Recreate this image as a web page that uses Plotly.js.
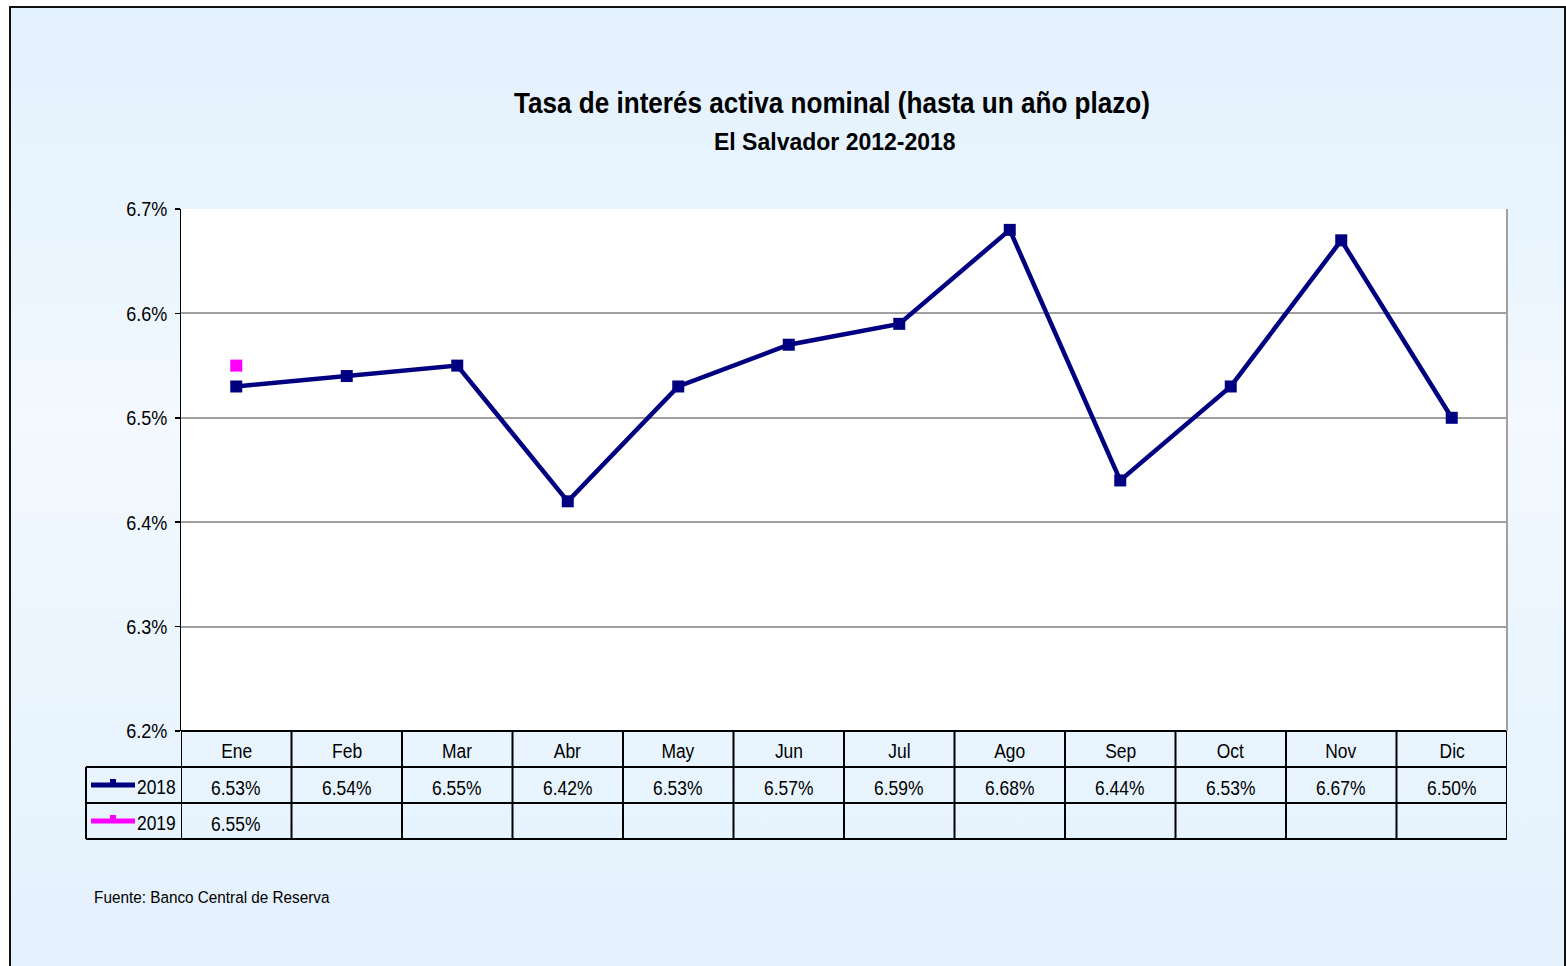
<!DOCTYPE html>
<html>
<head>
<meta charset="utf-8">
<script src="https://cdn.plot.ly/plotly-3.0.1.min.js"></script>
<style>
  html, body { margin:0; padding:0; background:#ffffff; width:1566px; height:966px; overflow:hidden; }
  #frame { position:absolute; left:9px; top:6px; width:1557px; height:980px; border:2px solid #111; box-sizing:border-box;
           background: linear-gradient(to bottom, #e3f1fd 0%, #eaf5fe 25%, #f3f9fe 42%, #eaf5fe 70%, #e3f1fd 100%); }
  #chart { position:absolute; left:0; top:0; width:1566px; height:966px; }
</style>
</head>
<body>
<div id="frame"></div>
<div id="chart"></div>
<script>
// ---- data ----
const months = ["Ene","Feb","Mar","Abr","May","Jun","Jul","Ago","Sep","Oct","Nov","Dic"];
const series2018 = [6.53, 6.54, 6.55, 6.42, 6.53, 6.57, 6.59, 6.68, 6.44, 6.53, 6.67, 6.50];
const series2019 = [6.55];
const seriesNames = ["2018", "2019"];
const yTicks = [6.2, 6.3, 6.4, 6.5, 6.6, 6.7];

// ---- layout helpers (pixel -> paper) ----
const W = 1566, H = 966, L = 181, R = 1507, T = 209, B = 731;
const px = p => (p - L) / (R - L);
const py = p => (B - p) / (B - T);
const FONT = "'Liberation Sans Narrow', 'Arial Narrow', 'Liberation Sans', Arial, sans-serif";
const NAVY = "#000080", MAG = "#ff00ff";

const idx = months.map((m, i) => i);

const traces = [
  { x: idx, y: series2018, type: "scatter", mode: "lines+markers", name: seriesNames[0],
    line: { color: NAVY, width: 4.5 }, marker: { symbol: "square", size: 12, color: NAVY }, cliponaxis: false },
  { x: idx.slice(0, series2019.length), y: series2019, type: "scatter", mode: "lines+markers", name: seriesNames[1],
    line: { color: MAG, width: 4.5 }, marker: { symbol: "square", size: 12, color: MAG }, cliponaxis: false }
];

const shapes = [];
const annotations = [];
const BLK = { color: "#000", width: 2 };
// horizontal table lines
shapes.push({ type: "line", xref: "paper", yref: "paper", x0: px(181), x1: px(1507), y0: py(731), y1: py(731), line: BLK });
[767, 803, 839].forEach(yy => shapes.push({ type: "line", xref: "paper", yref: "paper", x0: px(86), x1: px(1507), y0: py(yy), y1: py(yy), line: BLK }));
// vertical table lines
shapes.push({ type: "line", xref: "paper", yref: "paper", x0: px(86), x1: px(86), y0: py(767), y1: py(839), line: BLK });
for (let i = 0; i <= months.length; i++) {
  shapes.push({ type: "line", xref: "x", yref: "paper", x0: i - 0.5, x1: i - 0.5, y0: py(731), y1: py(839), line: BLK });
}
// legend keys
[[NAVY, 785], [MAG, 821]].forEach(([c, yy]) => {
  shapes.push({ type: "line", xref: "paper", yref: "paper", x0: px(91), x1: px(135), y0: py(yy), y1: py(yy), line: { color: c, width: 5 } });
  shapes.push({ type: "rect", xref: "paper", yref: "paper", x0: px(110), x1: px(116), y0: py(yy - 6), y1: py(yy), line: { width: 0 }, fillcolor: c });
});

const cellFont = { family: FONT, size: 21, color: "#000" };
months.forEach((m, i) => {
  annotations.push({ x: i, xref: "x", y: py(750), yref: "paper", yanchor: "middle", xanchor: "center", text: m, showarrow: false, font: cellFont });
  annotations.push({ x: i, xref: "x", y: py(787), yref: "paper", yanchor: "middle", xanchor: "center", text: series2018[i].toFixed(2) + "%", showarrow: false, font: cellFont });
  if (i < series2019.length) {
    annotations.push({ x: i, xref: "x", y: py(823), yref: "paper", yanchor: "middle", xanchor: "center", text: series2019[i].toFixed(2) + "%", showarrow: false, font: cellFont });
  }
});
[[seriesNames[0], 786], [seriesNames[1], 822]].forEach(([t, yy]) => {
  annotations.push({ x: px(178), xref: "paper", xanchor: "right", y: py(yy), yref: "paper", yanchor: "middle", text: t, showarrow: false, font: cellFont });
});
// subtitle
annotations.push({ x: px(835), xref: "paper", xanchor: "center", y: py(142), yref: "paper", yanchor: "middle", text: "<b>El Salvador 2012-2018</b>", showarrow: false, font: { family: FONT, size: 23, color: "#000" } });
// source
annotations.push({ x: px(92), xref: "paper", xanchor: "left", y: py(897), yref: "paper", yanchor: "middle", text: "Fuente: Banco Central de Reserva", showarrow: false, font: { family: FONT, size: 17, color: "#000" } });

const layout = {
  width: W, height: H,
  margin: { l: L, r: W - R, t: T, b: H - B, pad: 0 },
  paper_bgcolor: "rgba(0,0,0,0)",
  plot_bgcolor: "#ffffff",
  showlegend: false,
  title: { text: "<b>Tasa de interés activa nominal (hasta un año plazo)</b>", x: px(832), xref: "paper", xanchor: "center",
           y: 1 - 103 / H, yanchor: "middle", font: { family: FONT, size: 29, color: "#000" } },
  xaxis: { range: [-0.5, months.length - 0.5], showticklabels: false, showgrid: false, zeroline: false, ticks: "",
           showline: false, fixedrange: true },
  yaxis: { range: [yTicks[0], yTicks[yTicks.length - 1]], tickvals: yTicks, ticktext: yTicks.map(v => v.toFixed(1) + "%"),
           showgrid: true, gridcolor: "#a0a0a0", gridwidth: 2, zeroline: false,
           showline: true, linecolor: "#000", linewidth: 1.5, ticks: "outside", ticklen: 5, tickcolor: "#000", tickwidth: 1.5,
           ticklabelstandoff: 3,
           tickfont: { family: FONT, size: 21, color: "#000" }, mirror: false, fixedrange: true },
  shapes: shapes.concat([
    { type: "line", xref: "paper", yref: "paper", x0: 1, x1: 1, y0: 0, y1: 1, line: { color: "#a0a0a0", width: 2 } }
  ]),
  annotations: annotations
};

// Narrow the text horizontally (the reference uses a narrow typeface that is not installed)
function narrowText() {
  const texts = document.querySelectorAll("#chart svg text");
  texts.forEach(t => {
    const s = t.textContent || "";
    let k = 0.83, pivot = "center";
    if (s.indexOf("Tasa de inter") === 0) k = 0.9;
    else if (s.indexOf("El Salvador") === 0) k = 1.0;
    else if (s.indexOf("Fuente") === 0) { k = 0.9; pivot = "left"; }
    else if (seriesNames.indexOf(s) >= 0) pivot = "right";
    else if (s.indexOf("%") > 0 && s.length === 4) { k = 0.86; pivot = "right"; }
    if (k === 1.0) return;
    const bb = t.getBBox();
    const x = pivot === "left" ? bb.x : pivot === "right" ? bb.x + bb.width : bb.x + bb.width / 2;
    const prev = t.getAttribute("transform") || "";
    t.setAttribute("transform", (prev + ` translate(${x},0) scale(${k},1) translate(${-x},0)`).trim());
  });
}

Plotly.newPlot("chart", traces, layout, { displayModeBar: false, staticPlot: true }).then(narrowText);
</script>
</body>
</html>
